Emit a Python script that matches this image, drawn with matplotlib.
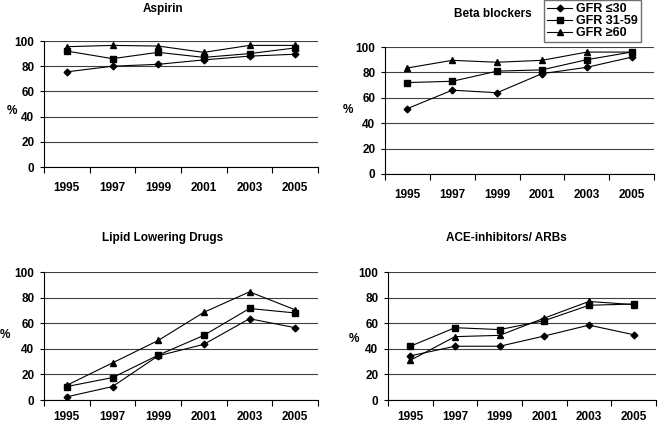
import matplotlib
matplotlib.use("Agg")
import matplotlib.pyplot as plt
from matplotlib.lines import Line2D

plt.rcParams['font.family'] = ['Liberation Sans', 'DejaVu Sans']
plt.rcParams['font.weight'] = 'bold'

years = ["1995", "1997", "1999", "2001", "2003", "2005"]
series_names = ["GFR \u226430", "GFR 31-59", "GFR \u226560"]
markers = ["D", "s", "^"]
marker_sizes = [3.4, 4.4, 4.8]

titles = ["Aspirin", "Beta blockers", "Lipid Lowering Drugs", "ACE-inhibitors/ ARBs"]

aspirin_gfr30 = [75.5, 80, 81.5, 85, 88, 89.5]
aspirin_gfr31_59 = [92, 86, 91, 87, 90, 94.5]
aspirin_gfr60 = [95.5, 96.5, 96, 91, 96.5, 96.5]

beta_gfr30 = [51.5, 66, 64, 79, 84, 92]
beta_gfr31_59 = [72, 73, 81, 82, 90, 96]
beta_gfr60 = [83.5, 89.5, 88, 89.5, 96, 96]

lipid_gfr30 = [2.5, 10.5, 34.5, 43.5, 63.5, 56.5]
lipid_gfr31_59 = [10.5, 17.5, 35, 50.5, 71.5, 68]
lipid_gfr60 = [11.5, 29, 46.5, 68.5, 84.5, 70.5]

ace_gfr30 = [34.5, 42, 42, 50, 58.5, 51]
ace_gfr31_59 = [42, 56.5, 55, 62, 74, 75]
ace_gfr60 = [31, 49.5, 50.5, 64, 77, 74.5]

panel_data = [
    [aspirin_gfr30, aspirin_gfr31_59, aspirin_gfr60],
    [beta_gfr30, beta_gfr31_59, beta_gfr60],
    [lipid_gfr30, lipid_gfr31_59, lipid_gfr60],
    [ace_gfr30, ace_gfr31_59, ace_gfr60],
]

W, H = 663, 423
fig = plt.figure(figsize=(W / 100, H / 100), dpi=100)

# axes boxes in pixels: left, right, top, bottom
boxes = [(44, 318, 41, 167), (385, 654, 47, 174), (44, 318, 272, 400), (388, 656, 272, 400)]
title_pos = [(163, 9), (493, 14), (163, 238), (506, 238)]
pct_pos = [(12, 111), (348, 110), (5, 335), (354, 339)]
xpads = [11, 11, 8, 8]

fs = 8.5
for i, (l, r, t, b) in enumerate(boxes):
    ax = fig.add_axes([l / W, 1 - b / H, (r - l) / W, (b - t) / H])
    x = list(range(len(years)))
    for vals, m, ms in zip(panel_data[i], markers, marker_sizes):
        ax.plot(x, vals, color='black', lw=0.8, marker=m, ms=ms,
                markerfacecolor='black', markeredgecolor='black')
    ax.set_xlim(-0.5, len(years) - 0.5)
    ax.set_ylim(0, 100)
    ax.set_yticks(range(0, 101, 20))
    ax.set_yticklabels([str(v) for v in range(0, 101, 20)], fontsize=fs, fontweight='bold')
    ax.set_xticks(x)
    ax.set_xticklabels(years, fontsize=fs, fontweight='bold')
    ax.set_xticks([k - 0.5 for k in range(len(years) + 1)], minor=True)
    ax.tick_params(axis='x', which='major', length=0, pad=xpads[i])
    ax.tick_params(axis='x', which='minor', length=4, width=0.8, direction='out')
    ax.tick_params(axis='y', length=3, width=0.8, pad=4)
    ax.grid(axis='y', color='#404040', lw=0.8)
    ax.set_axisbelow(True)
    for s in ['top', 'right']:
        ax.spines[s].set_visible(False)
    ax.spines['left'].set_linewidth(0.8)
    ax.spines['bottom'].set_linewidth(0.8)
    tx, ty = title_pos[i]
    fig.text(tx / W, 1 - ty / H, titles[i], ha='center', va='center', fontsize=fs, fontweight='bold')
    px, py = pct_pos[i]
    fig.text(px / W, 1 - py / H, "%", ha='center', va='center', fontsize=fs, fontweight='bold')

handles = [Line2D([0], [0], color='black', lw=0.8, marker=m, ms=ms, markerfacecolor='black')
           for m, ms in zip(markers, marker_sizes)]
leg = fig.legend(handles, series_names, loc='upper left', bbox_to_anchor=(544 / W, 1.0),
                 frameon=True, fancybox=False, edgecolor='#707070', framealpha=1,
                 prop={'size': 9, 'weight': 'bold'}, handlelength=2.0, handletextpad=0.3,
                 labelspacing=0.0, borderpad=0.25, borderaxespad=0)
leg.get_frame().set_linewidth(1.0)

fig.savefig("out.png", dpi=100)
